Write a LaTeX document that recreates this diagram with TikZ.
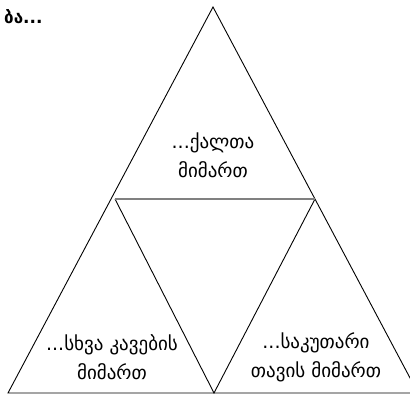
\documentclass[tikz,border=0pt]{standalone}
\usepackage{fontspec}
\newfontfamily\geo{DejaVu Sans}
\begin{document}
\begin{tikzpicture}[x=1pt,y=-1pt,
  edge/.style={draw=black,line width=0.9pt},
  midedge/.style={draw=black!50,line width=2pt},
  lbl/.style={font=\geo\fontsize{19}{29}\selectfont,align=center,inner sep=0pt},
  ttl/.style={font=\geo\bfseries\fontsize{17}{22}\selectfont,anchor=west,inner sep=0pt}]
\useasboundingbox (0,0) rectangle (410,395);
\coordinate (A) at (213,7);
\coordinate (B) at (8,393);
\coordinate (C) at (418,393);
\coordinate (L) at (115,199);
\coordinate (R) at (315,199);
\coordinate (M) at (214,393);
\draw[edge] (B) -- (A) -- (C) -- cycle;
\draw[edge] (L) -- (M) -- (R);
\draw[midedge] (L) -- (R);
\node[ttl] (title) at (4,17) {ბა...};
\node[lbl] (top) at (213,155) {...ქალთა\\მიმართ};
\node[lbl] (left) at (112,357) {...სხვა კავების\\მიმართ};
\node[lbl] (right) at (316,357) {...საკუთარი\\თავის მიმართ};
\end{tikzpicture}
\end{document}
